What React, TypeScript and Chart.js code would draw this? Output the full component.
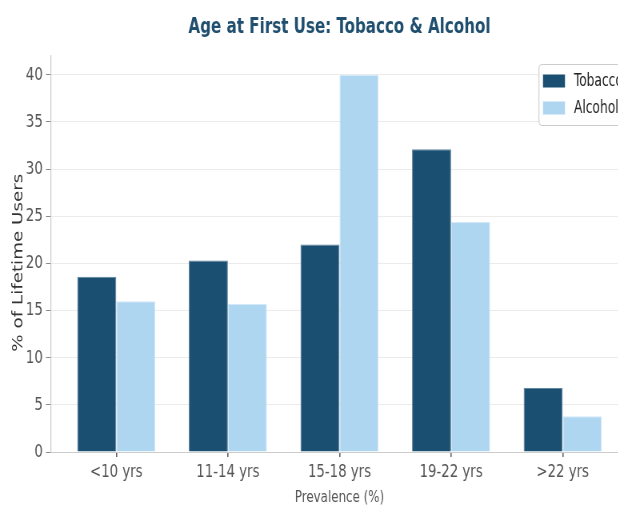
import React, { useEffect, useRef } from 'react';
import { Chart, registerables } from 'chart.js';

Chart.register(...registerables);

// ---- data ----
const categories = ['<10 yrs', '11-14 yrs', '15-18 yrs', '19-22 yrs', '>22 yrs'];
const tobaccoValues = [18.6, 20.3, 22.0, 32.1, 6.8];
const alcoholValues = [16.0, 15.7, 40.0, 24.4, 3.8];
const yTickValues = [0, 5, 10, 15, 20, 25, 30, 35, 40];
const seriesLabels = ['Tobacco', 'Alcohol'];
const chartTitle = 'Age at First Use: Tobacco & Alcohol';
const xAxisTitle = 'Prevalence (%)';
const yAxisTitle = '% of Lifetime Users';

// ---- geometry (canvas is drawn wide, then squeezed horizontally) ----
const K = 0.8;
const W = 800;
const H = 506;
const px = (p: number) => p / K;

const COND = "'DejaVu Sans Condensed', 'Liberation Sans Narrow', 'DejaVu Sans', sans-serif";
const REG = "'DejaVu Sans', sans-serif";

const boxLegend = {
  id: 'boxLegend',
  afterDraw(chart: any) {
    const ctx = chart.ctx as CanvasRenderingContext2D;
    const ds = chart.data.datasets;
    const left = px(539);
    const right = px(622);
    const top = 64.5;
    const bottom = 125.5;
    ctx.save();
    ctx.fillStyle = 'rgba(255,255,255,0.85)';
    ctx.strokeStyle = '#cccccc';
    ctx.lineWidth = 1.1;
    ctx.beginPath();
    (ctx as any).roundRect(left, top, right - left, bottom - top, 4);
    ctx.fill();
    ctx.stroke();
    const rows = [81, 108];
    ds.forEach((d: any, i: number) => {
      ctx.fillStyle = d.backgroundColor;
      ctx.fillRect(px(543), rows[i] - 6.5, px(565) - px(543), 13);
      ctx.fillStyle = '#222222';
      ctx.font = `17px ${COND}`;
      ctx.textBaseline = 'middle';
      ctx.textAlign = 'left';
      ctx.fillText(d.label, px(574), rows[i] + 1);
    });
    ctx.restore();
  },
};

export default function App() {
  const ref = useRef<HTMLCanvasElement>(null);

  useEffect(() => {
    const canvas = ref.current;
    if (!canvas) return;
    const chart = new Chart(canvas, {
      type: 'bar',
      data: {
        datasets: [
          {
            label: seriesLabels[0],
            data: tobaccoValues.map((v, i) => ({ x: i, y: v })),
            backgroundColor: '#1B4F72',
            borderColor: '#6285A0',
            borderWidth: 1,
          },
          {
            label: seriesLabels[1],
            data: alcoholValues.map((v, i) => ({ x: i, y: v })),
            backgroundColor: '#AED6F1',
            borderColor: '#D3E9F8',
            borderWidth: 1,
          },
        ] as any,
      },
      options: {
        responsive: false,
        animation: false,
        devicePixelRatio: 1,
        layout: { padding: { left: 0, right: W - px(628), top: 0, bottom: 0 } },
        datasets: { bar: { categoryPercentage: 0.7, barPercentage: 1 } } as any,
        plugins: {
          legend: { display: false },
          tooltip: { enabled: false },
          title: {
            display: true,
            text: chartTitle,
            fullSize: false,
            color: '#1F4E6E',
            font: { family: COND, size: 21, weight: 'bold' },
            padding: { top: 14.8, bottom: 16 },
          },
        },
        scales: {
          x: {
            type: 'linear',
            bounds: 'data',
            min: -0.585,
            max: 4.585,
            offset: false,
            afterBuildTicks: (s: any) => {
              s.ticks = categories.map((_, i) => ({ value: i }));
            },
            afterFit: (s: any) => {
              s.height = 54;
            },
            ticks: {
              autoSkip: false,
              maxRotation: 0,
              padding: 4,
              color: '#555555',
              font: { family: COND, size: 18.5 },
              callback: (v: any) => categories[v as number],
            },
            grid: {
              display: true,
              offset: false,
              drawOnChartArea: false,
              drawTicks: true,
              tickLength: 5,
              color: '#666666',
              tickColor: '#666666',
              lineWidth: 1.6,
              tickWidth: 1.6,
            },
            border: { display: true, color: '#cccccc', width: 1 },
            title: {
              display: true,
              text: xAxisTitle,
              color: '#555555',
              font: { family: COND, size: 16.5 },
              padding: { top: 0, bottom: -2 },
            },
          } as any,
          y: {
            bounds: 'data',
            min: 0,
            max: 42,
            afterBuildTicks: (s: any) => {
              s.ticks = yTickValues.map((v) => ({ value: v }));
            },
            afterFit: (s: any) => {
              s.width = px(51);
            },
            ticks: {
              padding: 4,
              color: '#555555',
              font: { family: COND, size: 18.5 },
            },
            grid: {
              color: (c: any) => (c.tick && c.tick.value === 0 ? 'rgba(0,0,0,0)' : '#ebebeb'),
              lineWidth: 1,
              tickLength: px(51) - px(46),
              tickColor: '#888888',
              tickWidth: 1,
            },
            border: { display: true, color: '#cccccc', width: 1 / K },
            title: {
              display: true,
              text: yAxisTitle + '   ',
              color: '#333333',
              font: { family: REG, size: 18.3 },
              padding: { top: 12, bottom: 0 },
            },
          } as any,
        },
      } as any,
      plugins: [boxLegend],
    });
    return () => chart.destroy();
  }, []);

  return (
    <div
      style={{
        position: 'fixed',
        left: 0,
        top: 0,
        width: 618,
        height: 506,
        overflow: 'hidden',
        background: '#ffffff',
      }}
    >
      <canvas
        ref={ref}
        width={W}
        height={H}
        style={{ width: `${W * K}px`, height: `${H}px`, display: 'block' }}
      />
    </div>
  );
}
